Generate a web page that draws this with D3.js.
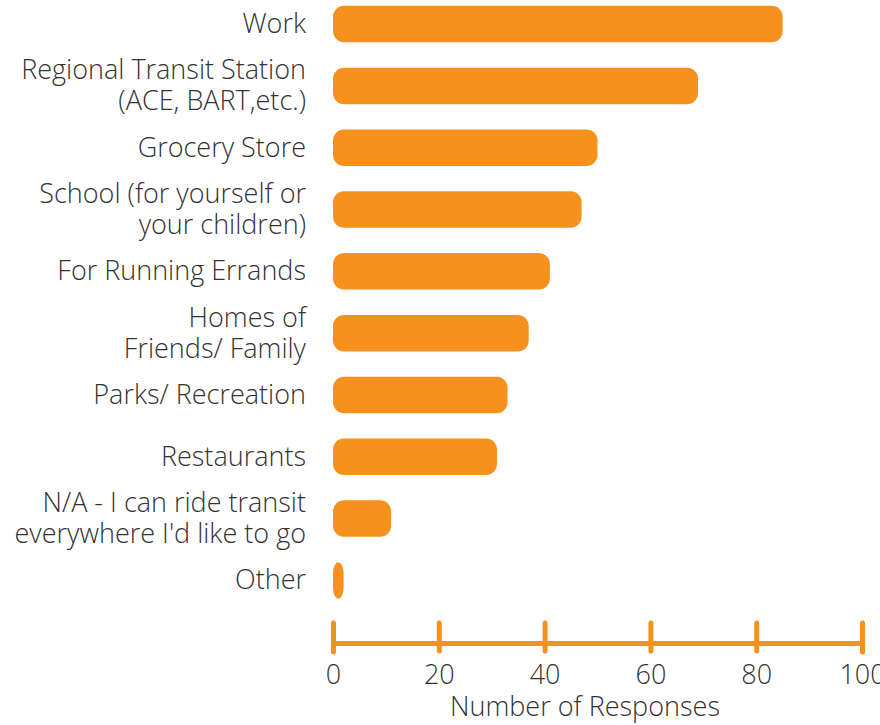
<!DOCTYPE html>
<html>
<head>
<meta charset="utf-8">
<script src="https://cdn.jsdelivr.net/npm/d3@7"></script>
<style>
  body { margin: 0; background: #fff; }
  text { font-family: "Open Sans", Lato, sans-serif; font-weight: 300; fill: #333; }
</style>
</head>
<body>
<div id="chart"></div>
<script>
// categories (lines of each label) and their response counts
const categories = [
    ["Work"],
    ["Regional Transit Station", "(ACE, BART,etc.)"],
    ["Grocery Store"],
    ["School (for yourself or", "your children)"],
    ["For Running Errands"],
    ["Homes of", "Friends/ Family"],
    ["Parks/ Recreation"],
    ["Restaurants"],
    ["N/A - I can ride transit", "everywhere I'd like to go"],
    ["Other"]
];
const responses = [85, 69, 50, 47, 41, 37, 33, 31, 11, 2];
const xTicks = [0, 20, 40, 60, 80, 100];
const xTitle = "Number of Responses";

const orange = "#F7911E";
const fontSize = 27;

const svg = d3.select("#chart")
    .append("svg")
    .attr("width", 880)
    .attr("height", 725);

// x scale, 0 sits at the left edge of the bars
let x = d3.scaleLinear()
    .domain([0, 100])
    .range([333, 862]);

// one band per category
let y = d3.scaleBand()
    .domain(d3.range(categories.length))
    .range([-6.5, 611])
    .paddingInner(0.41)
    .paddingOuter(0.2);

// bars
svg.append("g")
    .selectAll("rect")
    .data(responses)
    .join("rect")
    .attr("x", x(0))
    .attr("y", (d, i) => y(i))
    .attr("width", d => x(d) - x(0))
    .attr("height", y.bandwidth())
    .attr("rx", 11)
    .attr("fill", orange);

// category labels, right aligned next to the bars
const lineGap = 31;
let labels = svg.append("g")
    .selectAll("text")
    .data(categories)
    .join("text")
    .attr("text-anchor", "end")
    .attr("font-size", fontSize)
    .attr("y", (d, i) => y(i) + y.bandwidth() / 2 - (d.length - 1) * lineGap / 2);

labels.selectAll("tspan")
    .data(d => d)
    .join("tspan")
    .attr("x", 306)
    .attr("dy", (d, j) => j === 0 ? "0.33em" : lineGap)
    .text(d => d);

// bottom axis
const axisY = 643;
let axis = svg.append("g")
    .attr("transform", "translate(0," + axisY + ")")
    .call(d3.axisBottom(x).tickValues(xTicks).tickSizeOuter(0).tickSize(9));

axis.select(".domain")
    .attr("stroke", orange)
    .attr("stroke-width", 5)
    .attr("stroke-linecap", "round");

axis.selectAll(".tick line")
    .attr("stroke", orange)
    .attr("stroke-width", 5)
    .attr("stroke-linecap", "round")
    .attr("y1", -20)
    .attr("y2", 8);

axis.selectAll(".tick text")
    .attr("font-size", fontSize)
    .attr("font-family", "'Open Sans', Lato, sans-serif")
    .attr("fill", "#333")
    .attr("y", 22);

// axis title
svg.append("text")
    .attr("x", 585)
    .attr("y", 716)
    .attr("text-anchor", "middle")
    .attr("font-size", fontSize)
    .text(xTitle);
</script>
</body>
</html>
